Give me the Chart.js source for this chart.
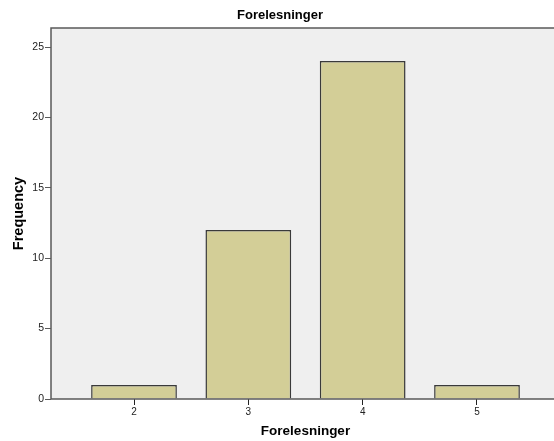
<!DOCTYPE html>
<html lang="no">
<head>
  <meta charset="UTF-8" />
  <title>Forelesninger</title>
  <script src="https://cdn.jsdelivr.net/npm/chart.js"></script>
  <style>
    html, body {
      margin: 0;
      padding: 0;
      background: #ffffff;
      overflow: hidden;
    }
    .chart-wrap {
      width: 560px;
      height: 441px;
    }
  </style>
</head>
<body>
  <div class="chart-wrap">
    <canvas id="chart"></canvas>
  </div>

  <script>
    // data
    const categories = [2, 3, 4, 5];
    const frequencies = [1, 12, 24, 1];
    const yTicks = [0, 5, 10, 15, 20, 25];

    const FONT = "'Liberation Sans', Arial, sans-serif";
    const AXIS = '#5a5a5a';

    // grey plot background + frame
    const plotFrame = {
      id: 'plotFrame',
      beforeDraw(chart) {
        const { ctx, chartArea: a } = chart;
        ctx.save();
        ctx.fillStyle = '#efefef';
        ctx.fillRect(a.left, a.top, a.right - a.left, a.bottom - a.top);
        ctx.restore();
      },
      afterDatasetsDraw(chart) {
        const { ctx, chartArea: a } = chart;
        ctx.save();
        ctx.strokeStyle = AXIS;
        ctx.lineWidth = 1.5;
        ctx.beginPath();
        ctx.moveTo(a.left, a.bottom);
        ctx.lineTo(a.left, a.top);
        ctx.lineTo(a.right, a.top);
        ctx.moveTo(a.left, a.bottom);
        ctx.lineTo(a.right, a.bottom);
        ctx.stroke();
        ctx.restore();
      }
    };

    new Chart(document.getElementById('chart'), {
      type: 'bar',
      data: {
        datasets: [{
          label: 'Frequency',
          data: categories.map((c, i) => ({ x: c, y: frequencies[i] })),
          backgroundColor: '#d3ce97',
          borderColor: '#3a3a3a',
          borderWidth: 1.5,
          barPercentage: 0.75,
          categoryPercentage: 1
        }]
      },
      options: {
        responsive: true,
        maintainAspectRatio: false,
        animation: false,
        layout: { padding: 0 },
        plugins: {
          legend: { display: false },
          tooltip: { enabled: false },
          title: {
            display: true,
            text: 'Forelesninger',
            color: '#000',
            font: { family: FONT, size: 13, weight: 'bold', lineHeight: 1.2 },
            padding: { top: 7.5, bottom: 4.9 }
          }
        },
        scales: {
          x: {
            type: 'linear',
            offset: false,
            min: 1.274,
            max: 5.726,
            afterBuildTicks: s => { s.ticks = categories.map(v => ({ value: v })); },
            afterFit: s => { s.height = 42; },
            grid: { display: true, offset: false, drawOnChartArea: false, drawTicks: true, tickLength: 6, color: '#222', lineWidth: 1 },
            border: { display: false },
            ticks: { color: '#222', font: { family: FONT, size: 10 }, padding: 1, maxRotation: 0 },
            title: {
              display: true,
              text: 'Forelesninger',
              color: '#000',
              font: { family: FONT, size: 13.5, weight: 'bold', lineHeight: 1.2 },
              padding: { top: 0, bottom: 2 }
            }
          },
          y: {
            min: 0,
            max: 26.35,
            afterBuildTicks: s => { s.ticks = yTicks.map(v => ({ value: v })); },
            afterFit: s => { s.width = 51; },
            grid: { display: true, drawOnChartArea: false, drawTicks: true, tickLength: 6, color: AXIS, lineWidth: 1 },
            border: { display: false },
            ticks: { color: '#222', font: { family: FONT, size: 10.5 }, padding: 1 },
            title: {
              display: true,
              text: 'Frequency',
              color: '#000',
              font: { family: FONT, size: 14.5, weight: 'bold', lineHeight: 1.2 },
              padding: { top: 10, bottom: 0 }
            }
          }
        }
      },
      plugins: [plotFrame]
    });
  </script>
</body>
</html>
